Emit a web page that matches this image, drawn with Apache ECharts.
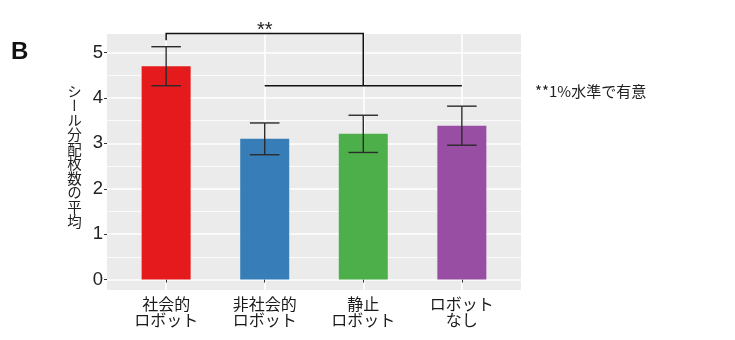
<!DOCTYPE html>
<html>
<head>
<meta charset="utf-8">
<script src="https://cdn.jsdelivr.net/npm/echarts@6/dist/echarts.min.js"></script>
<style>
  html, body { margin: 0; padding: 0; background: #fff; }
  #wrap { position: relative; width: 735px; height: 340px; }
  #chart { width: 735px; height: 340px; }
  /* vertical axis title, set upright in vertical writing mode */
  #ytitle {
    position: absolute; left: 66px; top: 84px;
    writing-mode: vertical-rl;
    font-family: "Noto Sans CJK JP", sans-serif;
    font-size: 14.5px; line-height: 16px; color: #222;
  }
</style>
</head>
<body>
<div id="wrap">
  <div id="chart"></div>
  <div id="ytitle"></div>
</div>
<script>
// Groups and their mean sticker counts with error-bar half widths
const categories = ['社会的\nロボット', '非社会的\nロボット', '静止\nロボット', 'ロボット\nなし'];
const means = [4.70, 3.10, 3.21, 3.39];
const errors = [0.43, 0.35, 0.41, 0.43];
const barColors = ['#E41A1C', '#377EB8', '#4DAF4A', '#984EA3'];

// Axis ticks
const yTicks = [0, 1, 2, 3, 4, 5];
const yMinorTicks = [0.5, 1.5, 2.5, 3.5, 4.5];

// Texts
const yTitle = 'シール分配枚数の平均';
const panelLabel = 'B';
const sigMark = '**';
const sigNote = '**1%水準で有意';

// Significance bracket: group 1 vs groups 2–4
const bracketLeft = 0;
const bracketPivot = 2;
const bracketGroupFrom = 1;
const bracketGroupTo = 3;

document.getElementById('ytitle').textContent = yTitle;

const xPos = categories.map((_, i) => i + 1);
const BRACKET_TOP = 5.42;
const BRACKET_DROP = 5.27;
const BRACKET_LOW = 4.27;
const CAP_HALF = 0.15;

const chart = echarts.init(document.getElementById('chart'), null, { renderer: 'canvas' });

const axisFont = 'Liberation Sans';
const jpFont = 'Noto Sans CJK JP';

chart.setOption({
  animation: false,
  backgroundColor: '#ffffff',
  grid: {
    left: 107, right: 214, top: 34, bottom: 50,
    show: true, backgroundColor: '#EBEBEB', borderWidth: 0
  },
  xAxis: {
    type: 'value', min: 0.4, max: 4.6,
    axisLine: { show: false },
    axisTick: { show: true, length: 3, customValues: xPos, lineStyle: { color: '#333', width: 1 } },
    axisLabel: {
      customValues: xPos,
      formatter: v => categories[Math.round(v) - 1] || '',
      fontFamily: jpFont, fontSize: 16, lineHeight: 16, color: '#1a1a1a', margin: 6
    },
    splitLine: { show: true, lineStyle: { color: '#ffffff', width: 1.6 } }
  },
  yAxis: [{
    type: 'value', min: -0.23, max: 5.41,
    axisLine: { show: false },
    axisTick: { show: true, length: 3, customValues: yTicks, lineStyle: { color: '#333', width: 1 } },
    axisLabel: { customValues: yTicks, fontFamily: axisFont, fontSize: 18.5, color: '#222', margin: 4 },
    splitLine: { show: true, lineStyle: { color: '#ffffff', width: 1.6 } }
  }, {
    type: 'value', min: -0.23, max: 5.41, position: 'left',
    axisLine: { show: false },
    axisTick: { show: false, customValues: yMinorTicks },
    axisLabel: { show: false, customValues: yMinorTicks },
    splitLine: { show: true, lineStyle: { color: '#ffffff', width: 0.8 } }
  }],
  graphic: [
    {
      type: 'text', left: 11, top: 40,
      style: { text: panelLabel, font: 'bold 24px "Liberation Sans"', fill: '#111' }
    },
    {
      type: 'text', left: 535, top: 84,
      style: { text: sigNote, font: '15px "Noto Sans CJK JP"', fill: '#222' }
    }
  ],
  series: [
    {
      type: 'bar',
      xAxisIndex: 0, yAxisIndex: 0,
      barWidth: 49,
      data: means.map((m, i) => ({ value: [xPos[i], m], itemStyle: { color: barColors[i] } }))
    },
    {
      // error bars: mean ± error
      type: 'custom',
      xAxisIndex: 0, yAxisIndex: 0,
      clip: false,
      data: means.map((m, i) => [xPos[i], m - errors[i], m + errors[i]]),
      renderItem: function (params, api) {
        const x = api.value(0), lo = api.value(1), hi = api.value(2);
        const top = api.coord([x, hi]);
        const bot = api.coord([x, lo]);
        const capL = api.coord([x - CAP_HALF, hi])[0];
        const capR = api.coord([x + CAP_HALF, hi])[0];
        const style = { stroke: '#2b2b2b', lineWidth: 1.4 };
        return {
          type: 'group',
          children: [
            { type: 'line', shape: { x1: top[0], y1: top[1], x2: bot[0], y2: bot[1] }, style },
            { type: 'line', shape: { x1: capL, y1: top[1], x2: capR, y2: top[1] }, style },
            { type: 'line', shape: { x1: capL, y1: bot[1], x2: capR, y2: bot[1] }, style }
          ]
        };
      },
      z: 5
    },
    {
      // significance bracket
      type: 'custom',
      xAxisIndex: 0, yAxisIndex: 0,
      clip: false,
      data: [[xPos[bracketLeft], xPos[bracketPivot], xPos[bracketGroupFrom], xPos[bracketGroupTo]]],
      renderItem: function (params, api) {
        const xl = api.value(0), xp = api.value(1), xa = api.value(2), xb = api.value(3);
        const pDrop = api.coord([xl, BRACKET_DROP]);
        const pTopL = api.coord([xl, BRACKET_TOP]);
        const pTopR = api.coord([xp, BRACKET_TOP]);
        const pLow = api.coord([xp, BRACKET_LOW]);
        const pa = api.coord([xa, BRACKET_LOW]);
        const pb = api.coord([xb, BRACKET_LOW]);
        const style = { stroke: '#111', lineWidth: 1.5, fill: null };
        return {
          type: 'group',
          children: [
            { type: 'polyline', shape: { points: [pDrop, pTopL, pTopR, pLow] }, style },
            { type: 'line', shape: { x1: pa[0], y1: pa[1], x2: pb[0], y2: pb[1] }, style },
            {
              type: 'text',
              style: {
                text: sigMark, x: (pTopL[0] + pTopR[0]) / 2, y: pTopL[1] - 3.5,
                align: 'center', verticalAlign: 'middle',
                font: '20px "Liberation Sans"', fill: '#222'
              }
            }
          ]
        };
      },
      z: 6
    }
  ]
});
</script>
</body>
</html>
